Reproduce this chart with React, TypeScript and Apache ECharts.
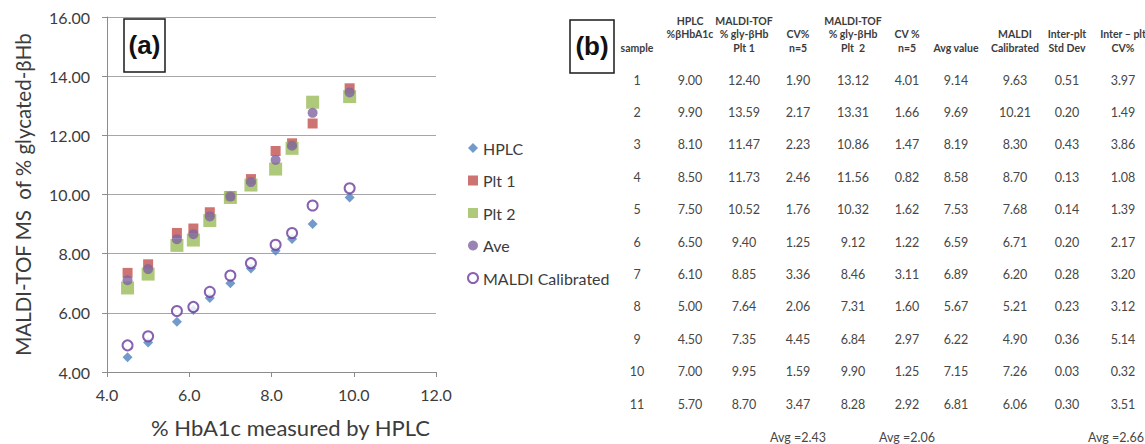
import React, { useEffect, useRef } from "react";
import * as echarts from "echarts";

// Samples measured by HPLC and by MALDI-TOF on two plates
const samples = ["1", "2", "3", "4", "5", "6", "7", "8", "9", "10", "11"];
const hplc = [9.0, 9.9, 8.1, 8.5, 7.5, 6.5, 6.1, 5.0, 4.5, 7.0, 5.7];
const plt1 = [12.4, 13.59, 11.47, 11.73, 10.52, 9.4, 8.85, 7.64, 7.35, 9.95, 8.7];
const cv1 = [1.9, 2.17, 2.23, 2.46, 1.76, 1.25, 3.36, 2.06, 4.45, 1.59, 3.47];
const plt2 = [13.12, 13.31, 10.86, 11.56, 10.32, 9.12, 8.46, 7.31, 6.84, 9.9, 8.28];
const cv2 = [4.01, 1.66, 1.47, 0.82, 1.62, 1.22, 3.11, 1.6, 2.97, 1.25, 2.92];
const avgValue = [9.14, 9.69, 8.19, 8.58, 7.53, 6.59, 6.89, 5.67, 6.22, 7.15, 6.81];
const calibrated = [9.63, 10.21, 8.3, 8.7, 7.68, 6.71, 6.2, 5.21, 4.9, 7.26, 6.06];
const stdDev = [0.51, 0.2, 0.43, 0.13, 0.14, 0.2, 0.28, 0.23, 0.36, 0.03, 0.3];
const interCv = [3.97, 1.49, 3.86, 1.08, 1.39, 2.17, 3.2, 3.12, 5.14, 0.32, 3.51];
// plate average plotted in panel (a)
const plateAve = [12.76, 13.45, 11.17, 11.65, 10.42, 9.26, 8.66, 7.48, 7.1, 9.93, 8.49];

// Table headers, one list of lines per column (top line first)
const headers: string[][] = [
  ["", "", "sample"],
  ["HPLC", "%βHbA1c", ""],
  ["MALDI-TOF", "% gly-βHb", "Plt 1"],
  ["", "CV%", "n=5"],
  ["MALDI-TOF", "% gly-βHb", "Plt  2"],
  ["", "CV %", "n=5"],
  ["", "", "Avg value"],
  ["", "MALDI", "Calibrated"],
  ["", "Inter-plt", "Std Dev"],
  ["", "Inter – plt", "CV%"],
];
const columnAverages = ["", "", "", "Avg =2.43", "", "Avg =2.06", "", "", "", "Avg =2.66"];

const FONT = "Lato, 'Open Sans', sans-serif";
const TEXT = "#3c3c3c";
const DATA_TEXT = "#474747";

export default function App() {
  const ref = useRef<HTMLDivElement>(null);

  useEffect(() => {
    if (!ref.current) return;
    const chart = echarts.init(ref.current, undefined, { renderer: "svg" });

    const colX = [637, 690, 744, 798, 853, 907, 956, 1015, 1067, 1123];
    const rowY0 = 80;
    const rowStep = 32.4;
    const headerY = [21, 34, 48];

    const columns: string[][] = [
      samples,
      hplc.map((v) => v.toFixed(2)),
      plt1.map((v) => v.toFixed(2)),
      cv1.map((v) => v.toFixed(2)),
      plt2.map((v) => v.toFixed(2)),
      cv2.map((v) => v.toFixed(2)),
      avgValue.map((v) => v.toFixed(2)),
      calibrated.map((v) => v.toFixed(2)),
      stdDev.map((v) => v.toFixed(2)),
      interCv.map((v) => v.toFixed(2)),
    ];

    const tableTexts: any[] = [];
    headers.forEach((lines, c) => {
      lines.forEach((line, r) => {
        if (!line) return;
        tableTexts.push({
          type: "text",
          x: colX[c],
          y: headerY[r],
          style: {
            text: line,
            fill: TEXT,
            font: `bold 10.5px ${FONT}`,
            align: "center",
            verticalAlign: "middle",
          },
        });
      });
    });
    columns.forEach((col, c) => {
      col.forEach((val, r) => {
        tableTexts.push({
          type: "text",
          x: colX[c],
          y: rowY0 + r * rowStep,
          style: {
            text: val,
            fill: DATA_TEXT,
            font: `12.5px ${FONT}`,
            align: "center",
            verticalAlign: "middle",
          },
        });
      });
    });
    columnAverages.forEach((t, c) => {
      if (!t) return;
      const last = c === columnAverages.length - 1;
      tableTexts.push({
        type: "text",
        x: last ? 1144 : colX[c],
        y: 437,
        style: {
          text: t,
          fill: DATA_TEXT,
          font: `12.5px ${FONT}`,
          align: last ? "right" : "center",
          verticalAlign: "middle",
        },
      });
    });

    const points = (ys: number[]) => hplc.map((x, i) => [x, ys[i]]);

    chart.setOption({
      animation: false,
      backgroundColor: "#ffffff",
      textStyle: { fontFamily: FONT },
      grid: { left: 107, right: 709, top: 17, bottom: 72, containLabel: false },
      legend: {
        orient: "vertical",
        left: 462,
        top: 135,
        itemWidth: 10,
        itemHeight: 10,
        itemGap: 16.5,
        textStyle: { fontSize: 16, color: TEXT, fontFamily: FONT, lineHeight: 16 },
        data: [
          { name: "HPLC", icon: "diamond" },
          { name: "Plt 1", icon: "rect" },
          { name: "Plt 2", icon: "rect" },
          { name: "Ave", icon: "circle" },
          { name: "MALDI Calibrated", icon: "circle" },
        ],
      },
      xAxis: {
        type: "value",
        min: 4,
        max: 12,
        interval: 2,
        name: "% HbA1c measured by HPLC",
        nameLocation: "middle",
        nameGap: 44,
        nameTextStyle: { fontSize: 22, color: TEXT, fontFamily: FONT, padding: [0, 0, 0, 38] },
        axisLine: { show: true, lineStyle: { color: "#8c8c8c", width: 1 } },
        axisTick: { show: true, length: 5, lineStyle: { color: "#8c8c8c" } },
        axisLabel: {
          fontSize: 16,
          color: TEXT,
          margin: 14,
          formatter: (v: number) => v.toFixed(1),
        },
        splitLine: { show: false },
      },
      yAxis: {
        type: "value",
        min: 4,
        max: 16,
        interval: 2,
        name: "MALDI-TOF MS  of % glycated-βHb",
        nameLocation: "middle",
        nameGap: 74,
        nameTextStyle: { fontSize: 20.5, color: TEXT, fontFamily: FONT },
        axisLine: { show: true, lineStyle: { color: "#8c8c8c", width: 1 } },
        axisTick: { show: true, length: 5, lineStyle: { color: "#8c8c8c" } },
        axisLabel: {
          fontSize: 16,
          color: TEXT,
          margin: 17,
          formatter: (v: number) => v.toFixed(2),
        },
        splitLine: { show: true, lineStyle: { color: "#a6a6a6", width: 1 } },
      },
      series: [
        {
          name: "HPLC",
          type: "scatter",
          symbol: "diamond",
          symbolSize: 10,
          itemStyle: { color: "#4f81bd" },
          data: points(hplc),
        },
        {
          name: "Plt 1",
          type: "scatter",
          symbol: "rect",
          symbolSize: 10,
          itemStyle: { color: "#c0504d" },
          data: points(plt1),
        },
        {
          name: "Plt 2",
          type: "scatter",
          symbol: "rect",
          symbolSize: 13,
          itemStyle: { color: "#9bbb59" },
          data: points(plt2),
        },
        {
          name: "Ave",
          type: "scatter",
          symbol: "circle",
          symbolSize: 10,
          itemStyle: { color: "#8064a2" },
          data: points(plateAve),
        },
        {
          name: "MALDI Calibrated",
          type: "scatter",
          symbol: "circle",
          symbolSize: 10,
          itemStyle: { color: "#ffffff", borderColor: "#6a3a9c", borderWidth: 2 },
          data: points(calibrated),
        },
      ],
      graphic: [
        // panel labels
        {
          type: "rect",
          shape: { x: 124, y: 19, width: 41, height: 53 },
          style: { fill: "#ffffff", stroke: "#1a1a1a", lineWidth: 1.5 },
          z: 10,
        },
        {
          type: "text",
          x: 144.5,
          y: 45,
          style: {
            text: "(a)",
            font: "bold 26px 'Liberation Sans', Arial, sans-serif",
            fill: "#111111",
            align: "center",
            verticalAlign: "middle",
          },
          z: 11,
        },
        {
          type: "rect",
          shape: { x: 570, y: 20, width: 44, height: 53 },
          style: { fill: "#ffffff", stroke: "#1a1a1a", lineWidth: 1.5 },
        },
        {
          type: "text",
          x: 592,
          y: 46,
          style: {
            text: "(b)",
            font: "bold 26px 'Liberation Sans', Arial, sans-serif",
            fill: "#111111",
            align: "center",
            verticalAlign: "middle",
          },
        },
        ...tableTexts,
      ],
    });

    return () => chart.dispose();
  }, []);

  return (
    <div
      ref={ref}
      style={{ position: "fixed", left: 0, top: 0, width: 1145, height: 444, background: "#fff" }}
    />
  );
}
